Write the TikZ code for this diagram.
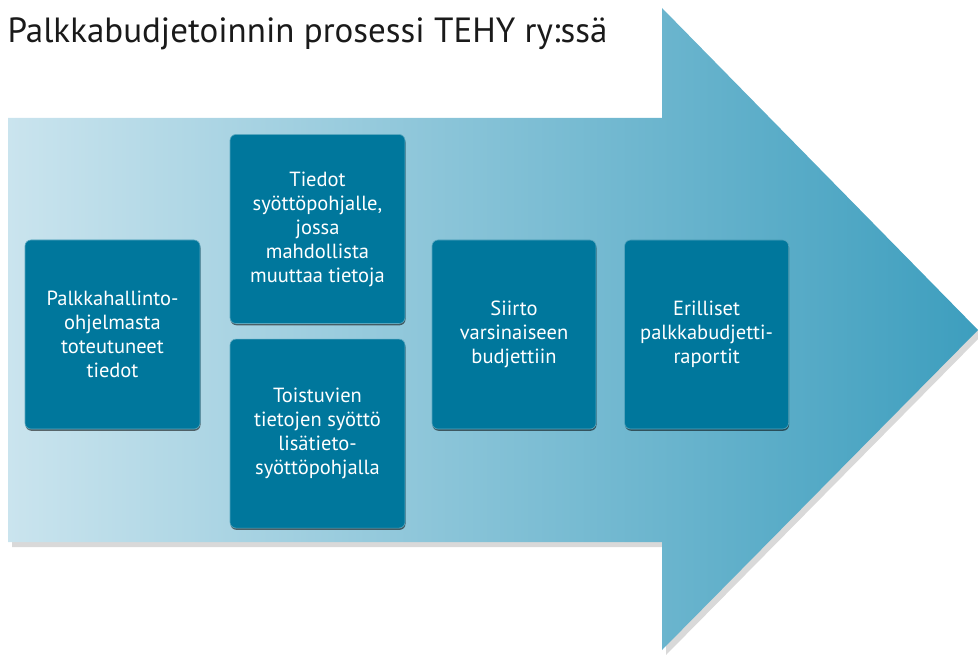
\documentclass[tikz,border=0pt]{standalone}
\usepackage{fontspec}
\setmainfont{PT Sans}
\usepackage{xcolor}
\definecolor{colorArrowLeft}{HTML}{CAE4EE}
\definecolor{colorArrowRight}{HTML}{3D9EBE}
\definecolor{colorBox}{HTML}{00779C}
\definecolor{colorTitle}{HTML}{1A1A1A}
\usetikzlibrary{positioning, shadows}
\tikzset{
  stepbox/.style={rectangle, rounded corners=6pt, fill=colorBox, draw=colorBox!65!white,
    line width=0.6pt, text=white, align=center, minimum width=175pt, minimum height=189pt,
    inner sep=2pt, font=\fontsize{20.5}{24}\selectfont,
    drop shadow={shadow xshift=0.5pt, shadow yshift=-1.8pt, opacity=0.55, fill=black}},
  narrowbox/.style={stepbox, minimum width=164pt},
}

\begin{document}
\begin{tikzpicture}[x=1pt, y=-1pt, node distance=15pt]
\useasboundingbox (0,0) rectangle (978,655);
% big arrow
\path[left color=colorArrowLeft, right color=colorArrowRight,
  drop shadow={shadow xshift=4pt, shadow yshift=-5pt, opacity=0.3}]
  (8,118) -- (662,118) -- (662,8) -- (978,330) -- (662,650) -- (662,542) -- (8,542) -- cycle;
\node[anchor=west, text=colorTitle, font=\fontsize{35}{40}\selectfont] (title) at (4,34) {Palkkabudjetoinnin prosessi TEHY ry:ssä};
% steps
\node[stepbox] (palkka) at (112.5,334.5) {Palkkahallinto-\\ohjelmasta\\toteutuneet\\tiedot};
\node[stepbox] (tiedot) at (317.5,229) {Tiedot\\syöttöpohjalle,\\jossa\\mahdollista\\muuttaa tietoja};
\node[stepbox, below=of tiedot] (toistuvat) {Toistuvien\\tietojen syöttö\\lisätieto-\\syöttöpohjalla};
\node[narrowbox] (siirto) at (514,334.5) {Siirto\\varsinaiseen\\budjettiin};
\node[narrowbox, right=28pt of siirto] (raportit) {Erilliset\\palkkabudjetti-\\raportit};
\end{tikzpicture}
\end{document}
